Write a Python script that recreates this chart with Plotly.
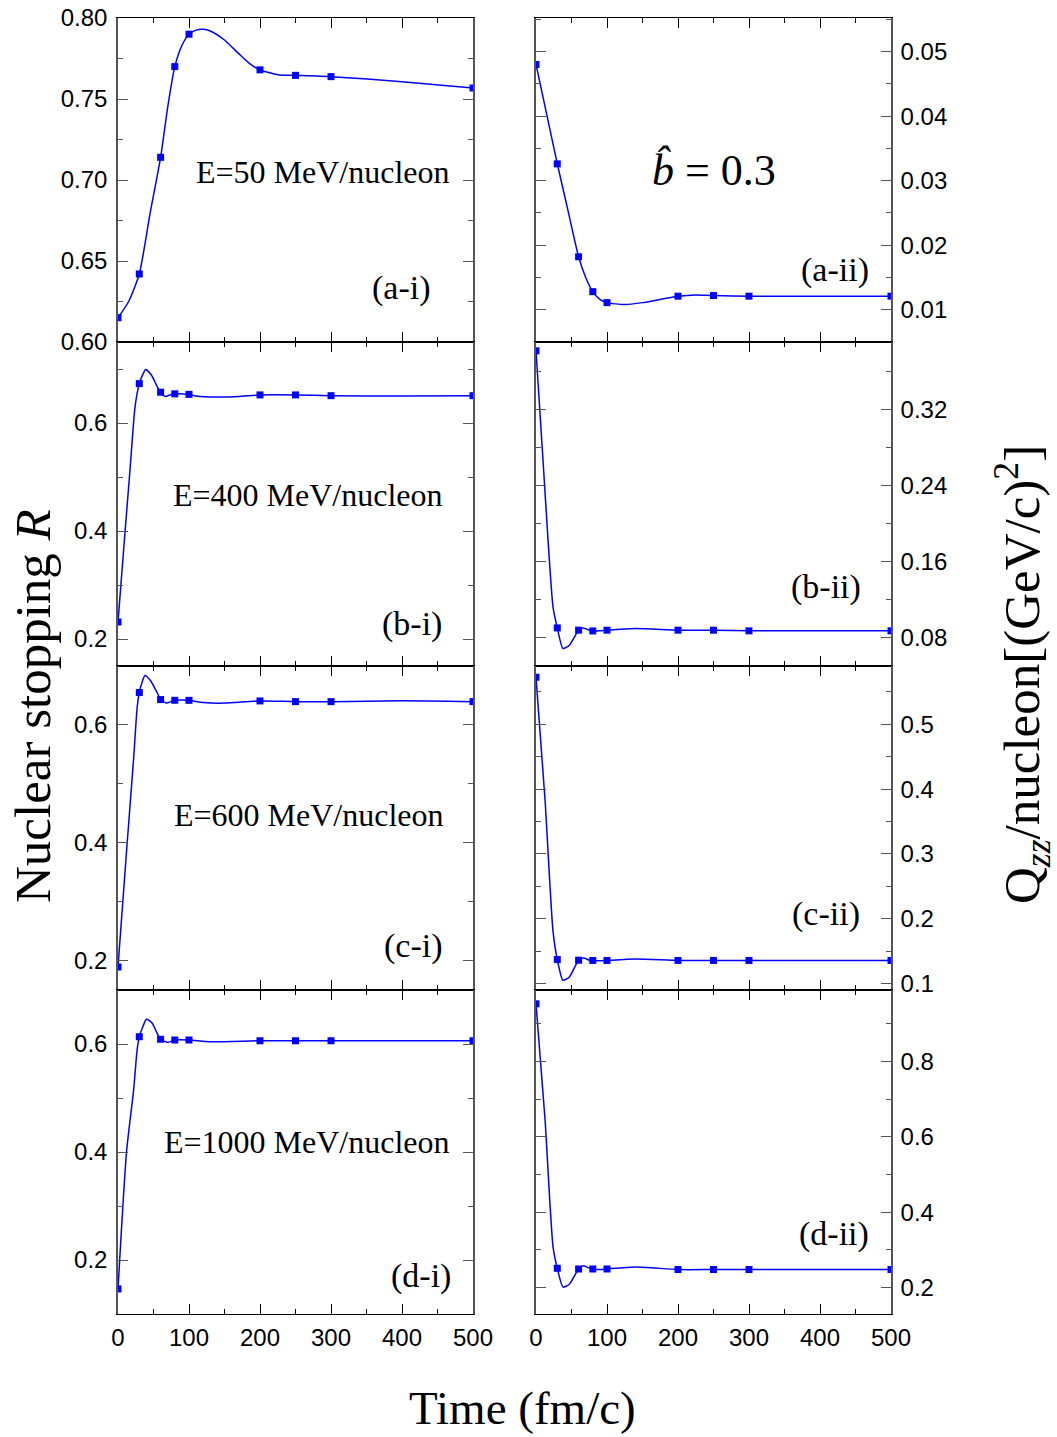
import plotly.graph_objects as go

W, H = 1057, 1437

# ---------------- data ----------------
t_pts = [0, 30, 60, 80, 100, 200, 250, 300, 500]

# (a-i) E=50 MeV/nucleon, stopping R
ai_pts = [0.615, 0.642, 0.714, 0.770, 0.790, 0.768, 0.7646, 0.7638, 0.7568]
ai_tc = [0, 15, 30, 45, 60, 70, 80, 90, 100, 110, 120, 130, 150, 170, 185, 200, 225, 250, 300, 400, 500]
ai_yc = [0.615, 0.625, 0.642, 0.679, 0.714, 0.745, 0.770, 0.783, 0.790, 0.7925, 0.793, 0.792, 0.7864,
         0.778, 0.772, 0.768, 0.765, 0.7646, 0.7638, 0.7607, 0.7568]

# (a-ii) Qzz
aii_pts = [0.048, 0.0326, 0.0182, 0.0128, 0.0111, 0.0121, 0.0122, 0.0121, 0.0121]
aii_tc = [0, 15, 30, 45, 60, 70, 80, 90, 100, 125, 150, 175, 200, 225, 250, 300, 500]
aii_yc = [0.048, 0.0403, 0.0326, 0.0254, 0.0182, 0.0150, 0.0128, 0.0116, 0.0111, 0.0108, 0.0111,
          0.0116, 0.0121, 0.0123, 0.0122, 0.0121, 0.0121]

# (b-i) E=400
bi_pts = [0.2315, 0.673, 0.657, 0.654, 0.653, 0.652, 0.652, 0.6506, 0.6506]
bi_tc = [0, 10, 17, 24, 30, 35, 39, 47, 55, 60, 67, 73, 80, 100, 110, 140, 170, 200, 250, 300, 400, 500]
bi_yc = [0.2315, 0.40, 0.515, 0.63, 0.673, 0.690, 0.699, 0.689, 0.668, 0.657, 0.649, 0.652, 0.654,
         0.653, 0.650, 0.648, 0.649, 0.652, 0.652, 0.6506, 0.650, 0.6506]

# (b-ii)
bii_pts = [0.3817, 0.0901, 0.0877, 0.0869, 0.0877, 0.0877, 0.0877, 0.087, 0.087]
bii_tc = [0, 10, 24, 30, 38, 47, 60, 66, 72, 80, 90, 100, 140, 200, 250, 300, 500]
bii_yc = [0.3817, 0.265, 0.112, 0.0901, 0.0684, 0.0719, 0.0877, 0.090, 0.0885, 0.0869, 0.087,
          0.0877, 0.0895, 0.0877, 0.0877, 0.087, 0.087]

# (c-i) E=600
ci_pts = [0.189, 0.655, 0.643, 0.6418, 0.6417, 0.6407, 0.6395, 0.6395, 0.6395]
ci_tc = [0, 12, 22, 27, 30, 34, 38, 46, 55, 60, 68, 80, 100, 120, 150, 200, 250, 300, 400, 500]
ci_yc = [0.189, 0.385, 0.543, 0.63, 0.655, 0.673, 0.684, 0.675, 0.655, 0.643, 0.637, 0.6418,
         0.6417, 0.638, 0.637, 0.6407, 0.6395, 0.6395, 0.641, 0.6395]

# (c-ii)
cii_pts = [0.5727, 0.137, 0.136, 0.1356, 0.1356, 0.1356, 0.1356, 0.1356, 0.1356]
cii_tc = [0, 12.7, 24, 30, 38, 47, 60, 67, 75, 80, 90, 100, 140, 200, 250, 300, 500]
cii_yc = [0.5727, 0.384, 0.18, 0.137, 0.105, 0.110, 0.136, 0.1395, 0.136, 0.1356, 0.135, 0.1356,
          0.138, 0.1356, 0.1356, 0.1356, 0.1356]

# (d-i) E=1000
di_pts = [0.1464, 0.6135, 0.6087, 0.6074, 0.6074, 0.606, 0.606, 0.606, 0.606]
di_tc = [0, 12, 22, 27, 30, 35, 40, 48, 55, 60, 70, 80, 100, 130, 200, 250, 300, 500]
di_yc = [0.1464, 0.40, 0.515, 0.59, 0.6135, 0.632, 0.6457, 0.639, 0.62, 0.6087, 0.603, 0.6074,
         0.6074, 0.6043, 0.606, 0.606, 0.606, 0.606]

# (d-ii)
dii_pts = [0.9534, 0.2513, 0.2495, 0.2495, 0.2495, 0.248, 0.248, 0.248, 0.248]
dii_tc = [0, 12.7, 24, 30, 38, 47, 60, 67, 73, 80, 90, 100, 140, 200, 250, 300, 500]
dii_yc = [0.9534, 0.647, 0.308, 0.2513, 0.2016, 0.209, 0.2495, 0.258, 0.253, 0.2495, 0.248, 0.2495,
          0.255, 0.248, 0.248, 0.248, 0.248]

x_range = [0, 500]
x_tickvals = [0, 100, 200, 300, 400, 500]

energy_labels = ["E=50 MeV/nucleon", "E=400 MeV/nucleon", "E=600 MeV/nucleon", "E=1000 MeV/nucleon"]
panel_labels = ["(a-i)", "(a-ii)", "(b-i)", "(b-ii)", "(c-i)", "(c-ii)", "(d-i)", "(d-ii)"]

# ---------------- panel setup ----------------
panels = [
    dict(pts=ai_pts, tc=ai_tc, yc=ai_yc, yr=[0.60, 0.80], dt=0.05, mdt=0.025, fmt=".2f"),
    dict(pts=aii_pts, tc=aii_tc, yc=aii_yc, yr=[0.005, 0.0552], dt=0.01, mdt=0.005, fmt=".2f"),
    dict(pts=bi_pts, tc=bi_tc, yc=bi_yc, yr=[0.15, 0.75], dt=0.2, mdt=0.1, fmt=".1f"),
    dict(pts=bii_pts, tc=bii_tc, yc=bii_yc, yr=[0.05, 0.391], dt=0.08, mdt=0.04, fmt=".2f"),
    dict(pts=ci_pts, tc=ci_tc, yc=ci_yc, yr=[0.15, 0.70], dt=0.2, mdt=0.1, fmt=".1f"),
    dict(pts=cii_pts, tc=cii_tc, yc=cii_yc, yr=[0.09, 0.59], dt=0.1, mdt=0.05, fmt=".1f"),
    dict(pts=di_pts, tc=di_tc, yc=di_yc, yr=[0.10, 0.70], dt=0.2, mdt=0.1, fmt=".1f"),
    dict(pts=dii_pts, tc=dii_tc, yc=dii_yc, yr=[0.13, 0.99], dt=0.2, mdt=0.1, fmt=".1f"),
]

col_px = [(118, 473), (536, 891)]
row_px = [(18, 342), (342, 666), (666, 990), (990, 1314)]

BLUE = "#0000FF"
TICKFONT = dict(family="Liberation Sans, Arial, sans-serif", size=24, color="black")
SERIF = "Liberation Serif, Times New Roman, serif"

fig = go.Figure()
layout = {}
for i, p in enumerate(panels):
    r, c = divmod(i, 2)
    idx = i + 1
    sfx = "" if idx == 1 else str(idx)
    xname, yname = "x" + sfx, "y" + sfx
    fig.add_trace(go.Scatter(x=p["tc"], y=p["yc"], mode="lines",
                             line=dict(color=BLUE, width=1.5, shape="spline", smoothing=0.6),
                             xaxis=xname, yaxis=yname, showlegend=False, hoverinfo="skip"))
    fig.add_trace(go.Scatter(x=t_pts, y=p["pts"], mode="markers",
                             marker=dict(symbol="square", size=7, color=BLUE, line=dict(width=0)),
                             xaxis=xname, yaxis=yname, showlegend=False))
    x0, x1 = col_px[c]
    ytop, ybot = row_px[r]
    layout["xaxis" + sfx] = dict(
        domain=[x0 / W, x1 / W], anchor=yname, range=x_range, automargin=False,
        tickmode="array", tickvals=x_tickvals,
        showline=True, linecolor="black", linewidth=1, mirror="ticks",
        ticks="inside", ticklen=10, tickwidth=1.3, tickcolor="black",
        minor=dict(dtick=50, tick0=0, ticks="inside", ticklen=5, tickwidth=1.3, tickcolor="black"),
        showticklabels=(r == 3), tickfont=TICKFONT, ticklabelstandoff=2,
        showgrid=False, zeroline=False,
    )
    layout["yaxis" + sfx] = dict(
        domain=[1 - ybot / H, 1 - ytop / H], anchor=xname, range=p["yr"], automargin=False,
        tick0=0, dtick=p["dt"], tickformat=p["fmt"],
        side="left" if c == 0 else "right",
        showline=True, linecolor="#555555", linewidth=1.5, mirror="ticks",
        ticks="inside", ticklen=10, tickwidth=1.3, tickcolor="#555555",
        minor=dict(dtick=p["mdt"], tick0=0, ticks="inside", ticklen=5, tickwidth=1.3, tickcolor="#555555"),
        showticklabels=True, tickfont=TICKFONT, ticklabelstandoff=(4 if c == 0 else 3),
        showgrid=False, zeroline=False,
    )

def px(x):
    return x / W

def py(y):
    return 1 - y / H

ann = []
# energy labels (right edge, vertical centre)
for txt, (xr, yc) in zip(energy_labels, [(452, 172), (445, 495), (446, 815), (452, 1142)]):
    ann.append(dict(text=txt, x=px(xr), y=py(yc), xanchor="right", yanchor="middle",
                    font=dict(family=SERIF, size=32, color="black")))
# panel labels
for txt, (xr, yc) in zip(panel_labels, [(433, 288), (871, 270), (444, 624), (863, 587),
                                         (445, 946), (862, 914), (453, 1276), (871, 1234)]):
    ann.append(dict(text=txt, x=px(xr), y=py(yc), xanchor="right", yanchor="middle",
                    font=dict(family=SERIF, size=34, color="black")))
# b-hat = 0.3 (combining circumflex over italic b)
ann.append(dict(text="<i>b\u0302</i> = 0.3", x=px(650), y=py(170), xanchor="left", yanchor="middle",
                font=dict(family=SERIF, size=44, color="black")))
# axis titles
ann.append(dict(text="Nuclear stopping <i>R</i>", x=px(33), y=py(706), textangle=-90,
                xanchor="center", yanchor="middle", font=dict(family=SERIF, size=51, color="black")))
ann.append(dict(text="Q<sub><i>zz</i></sub>/nucleon[(GeV/c)<sup>2</sup>]", x=px(1022), y=py(675),
                textangle=-90, xanchor="center", yanchor="middle",
                font=dict(family=SERIF, size=51, color="black")))
ann.append(dict(text="Time (fm/c)", x=px(522), y=py(1408), xanchor="center", yanchor="middle",
                font=dict(family=SERIF, size=47, color="black")))
for a in ann:
    a.update(xref="paper", yref="paper", showarrow=False)

fig.update_layout(
    width=W, height=H, margin=dict(l=0, r=0, t=0, b=0, autoexpand=False),
    paper_bgcolor="white", plot_bgcolor="white",
    annotations=ann, showlegend=False, **layout,
)

fig.write_html("out.html", config={"displayModeBar": False},
               post_script="document.body.style.margin='0';document.body.style.overflow='hidden';")
